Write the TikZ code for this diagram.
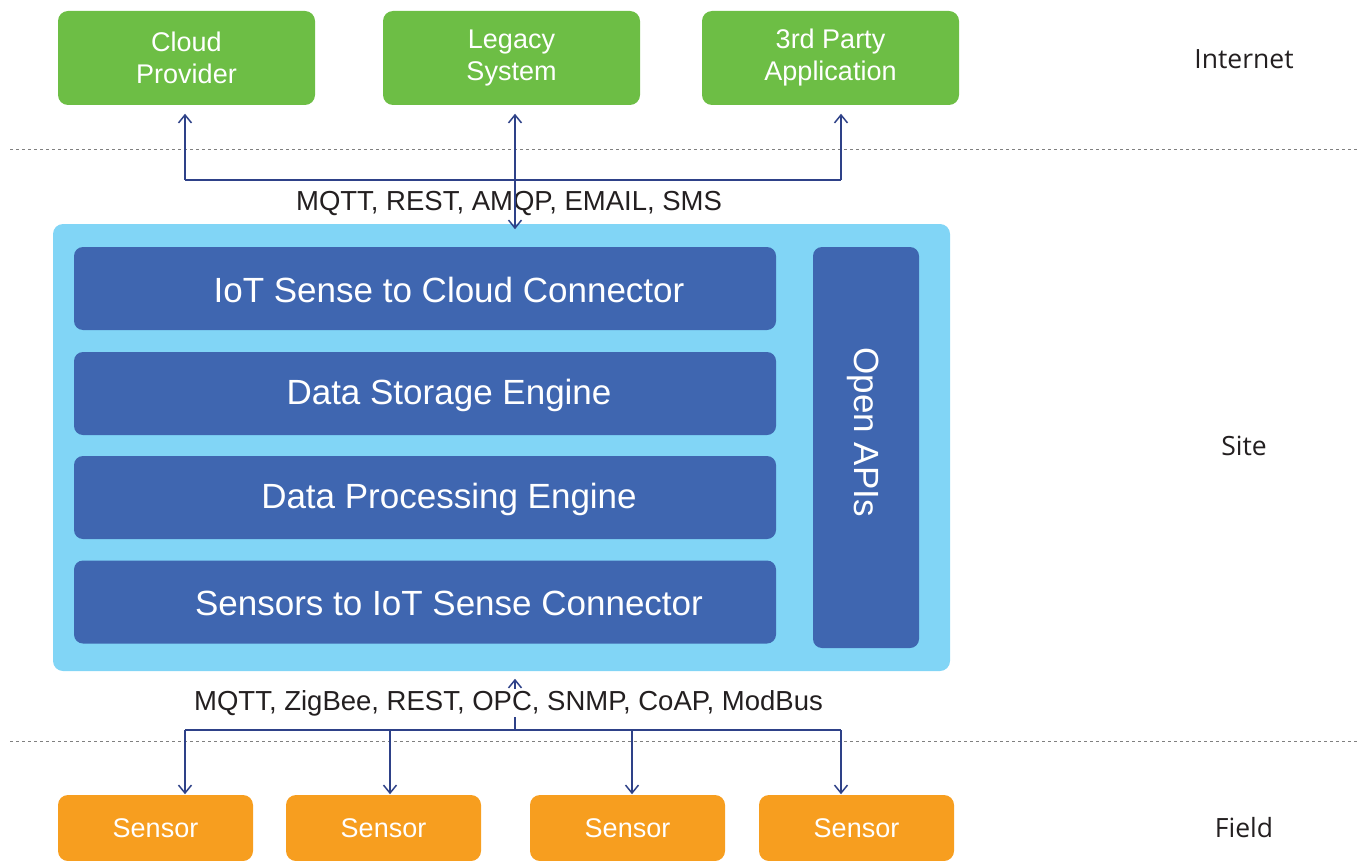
\documentclass[tikz,border=0pt]{standalone}
\usepackage{fontspec}
\setmainfont{Liberation Sans}
\newfontfamily\zonefont{Open Sans}
\usetikzlibrary{arrows.meta}
\definecolor{cloudgreen}{HTML}{6DBE45}
\definecolor{siteblue}{HTML}{81D5F6}
\definecolor{layerblue}{HTML}{3F66B0}
\definecolor{sensororange}{HTML}{F79E1F}
\definecolor{linkblue}{HTML}{2E4188}
\definecolor{inkgray}{HTML}{231F20}

\begin{document}
\begin{tikzpicture}
  [
  x=1pt, y=-1pt, line width=1.5pt,
  ext/.style={rectangle, rounded corners=10pt, fill=cloudgreen, text=white, inner sep=0pt,
    minimum width=257pt, minimum height=94pt, align=center, font=\fontsize{27}{32}\selectfont},
  layer/.style={rectangle, rounded corners=9pt, fill=layerblue, inner sep=0pt,
    minimum width=702pt, minimum height=83pt},
  layertext/.style={text=white, inner sep=0pt, font=\fontsize{35}{40}\selectfont},
  sensor/.style={rectangle, rounded corners=10pt, fill=sensororange, text=white, inner sep=0pt,
    minimum width=195pt, minimum height=66pt, font=\fontsize{27}{32}\selectfont},
  zone/.style={text=inkgray, font=\zonefont\fontsize{26.5}{30}\selectfont},
  proto/.style={text=inkgray, inner sep=1pt, font=\fontsize{27.5}{30}\selectfont},
  sep/.style={draw=gray, line width=1pt, dash pattern=on 3pt off 3pt},
  link/.style={draw=linkblue, line width=1.5pt},
  tip/.style={-{Straight Barb[length=8pt,width=13pt]}},
  both/.style={{Straight Barb[length=8pt,width=13pt]}-{Straight Barb[length=8pt,width=13pt]}}
  ]

\useasboundingbox (0,0) rectangle (1362,861);

\node[ext] (cloud) at (186.5,58) {Cloud\\Provider};
\node[ext] (legacy) at (511.5,58) {Legacy\\System};
\node[ext] (party) at (830.5,58) {3rd Party\\Application};

\node[rectangle, rounded corners=10pt, fill=siteblue, minimum width=897pt, minimum height=447pt]
  (site) at (501.5,447.5) {};

\foreach \y/\name/\txt in {288.5/cloudconn/IoT Sense to Cloud Connector,
                           393.5/storage/Data Storage Engine,
                           497.5/processing/Data Processing Engine,
                           602/sensconn/Sensors to IoT Sense Connector} {
  \node[layer] (\name) at (425,\y) {};
  \node[layertext] (\name-t) at ([xshift=24pt,yshift=-1.5pt]\name.center) {\txt};
}

\node[layer, minimum width=106pt, minimum height=401pt] (apis) at (866,447.5) {};
\node[layertext, rotate=-90] (apis-t) at (863,432) {Open APIs};

\foreach \x/\name in {155.5/s1, 383.5/s2, 627.5/s3, 856.5/s4} {
  \node[sensor] (\name) at (\x,828) {Sensor};
}

\node[zone] (internet) at (1244,59) {Internet};
\node[zone] (sitezone) at (1244,446) {Site};
\node[zone] (field) at (1244,828) {Field};

\draw[sep] (10,150) -- (1357,150);
\draw[sep] (10,741) -- (1357,741);

\coordinate (t1) at (185,180);
\coordinate (t2) at (515,180);
\coordinate (t3) at (841,180);
\draw[link] (t1) -- (t3);
\draw[link,tip,shorten >=8pt] (t1) -- (t1 |- cloud.south);
\draw[link,tip,shorten >=8pt] (t3) -- (t3 |- party.south);
\node[proto] (upper) at (509,203) {MQTT, REST, AMQP, EMAIL, SMS};
\draw[link,both,shorten <=8pt,shorten >=-6pt] (t2 |- legacy.south) -- (t2 |- site.north);

\foreach \x/\name in {185/b1, 390/b2, 515/bm, 632/b3, 841/b4} {
  \coordinate (\name) at (\x,730);
}
\draw[link] (b1) -- (b4);
\draw[link,tip,shorten >=7pt] (bm) -- (bm |- site.south);
\foreach \i in {1,2,3,4} {
  \draw[link,tip] (b\i) -- (b\i |- s\i.north);
}
\node[proto, fill=white] (lower) at (508.5,703) {MQTT, ZigBee, REST, OPC, SNMP, CoAP, ModBus};

\end{tikzpicture}
\end{document}
